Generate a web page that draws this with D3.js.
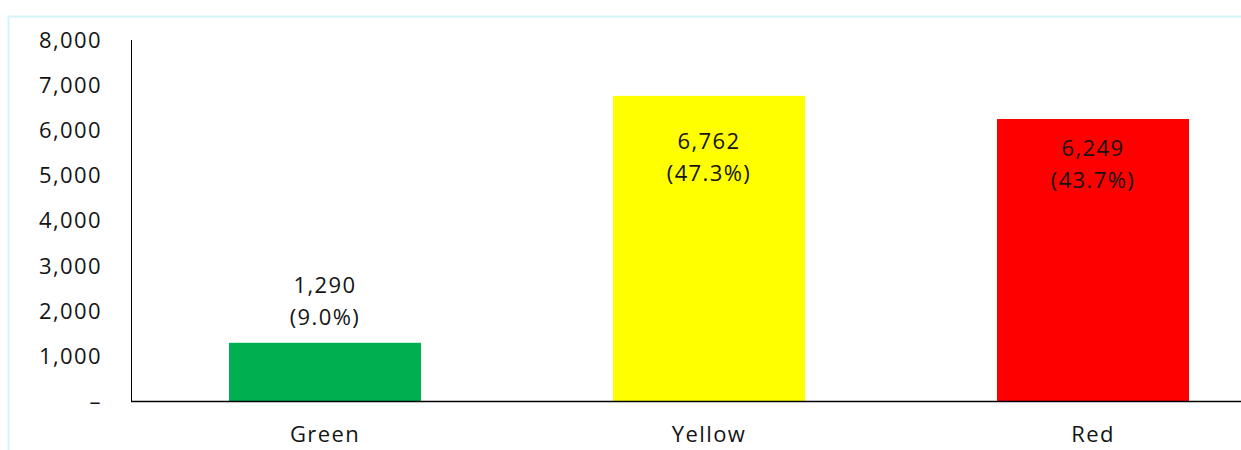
<!DOCTYPE html>
<html>
<head>
<meta charset="utf-8">
<script src="https://cdn.jsdelivr.net/npm/d3@7"></script>
<style>
  html, body { margin: 0; padding: 0; background: #fff; }
  svg { display: block; }
  text { font-family: "Open Sans", "Noto Sans", sans-serif; fill: #141414; letter-spacing: 1.4px; }
</style>
</head>
<body>
<svg id="chart" width="1241" height="450"></svg>
<script>
// Status counts by category
const categories = ["Green", "Yellow", "Red"];
const counts = [1290, 6762, 6249];
const shares = [9.0, 47.3, 43.7];
const barColors = ["#00b050", "#ffff00", "#ff0000"];
const yTicks = [0, 1000, 2000, 3000, 4000, 5000, 6000, 7000, 8000];

const svg = d3.select("#chart");

// Light frame around the chart area
svg.append("rect")
  .attr("x", 8.5).attr("y", 16.5)
  .attr("width", 1300).attr("height", 500)
  .attr("fill", "none")
  .attr("stroke", "#d4f3fa")
  .attr("stroke-width", 2);

const left = 131, baseY = 401, topY = 40;
const x = d3.scaleBand()
  .domain(categories)
  .range([left + 2, left + 2 + 3 * 384])
  .paddingInner(0.5)
  .paddingOuter(0.25);

const y = d3.scaleLinear().domain([0, 8000]).range([baseY, topY]);
const fs = 22;

// Y axis: labels only plus the vertical rule
const fmt = d3.format(",");
svg.append("g")
  .selectAll("text")
  .data(yTicks)
  .join("text")
  .attr("x", 102)
  .attr("y", d => y(d))
  .attr("dy", "0.36em")
  .attr("text-anchor", "end")
  .attr("font-size", fs)
  .text(d => d === 0 ? "–" : fmt(d));

svg.append("line")
  .attr("x1", left + 0.5).attr("x2", left + 0.5)
  .attr("y1", y(8000)).attr("y2", baseY + 1)
  .attr("stroke", "#000").attr("stroke-width", 1);

// Bars
svg.append("g")
  .selectAll("rect")
  .data(categories)
  .join("rect")
  .attr("x", d => x(d))
  .attr("width", x.bandwidth())
  .attr("y", (d, i) => y(counts[i]))
  .attr("height", (d, i) => baseY - y(counts[i]))
  .attr("fill", (d, i) => barColors[i]);

// Baseline
svg.append("line")
  .attr("x1", left).attr("x2", 1241)
  .attr("y1", baseY + 0.5).attr("y2", baseY + 0.5)
  .attr("stroke", "#000").attr("stroke-width", 1.5);

// Category labels
svg.append("g")
  .selectAll("text")
  .data(categories)
  .join("text")
  .attr("x", d => x(d) + x.bandwidth() / 2)
  .attr("y", 434)
  .attr("dy", "0.36em")
  .attr("text-anchor", "middle")
  .attr("font-size", fs)
  .text(d => d);

// Value labels: first line offset from the bar top (negative = above)
const labelOffset = [-58, 45, 29];
const valueLabels = svg.append("g")
  .selectAll("text")
  .data(categories)
  .join("text")
  .attr("text-anchor", "middle")
  .attr("font-size", fs);

valueLabels.append("tspan")
  .attr("x", d => x(d) + x.bandwidth() / 2)
  .attr("y", (d, i) => y(counts[i]) + labelOffset[i])
  .attr("dy", "0.36em")
  .text((d, i) => fmt(counts[i]));

valueLabels.append("tspan")
  .attr("x", d => x(d) + x.bandwidth() / 2)
  .attr("y", (d, i) => y(counts[i]) + labelOffset[i] + 32)
  .attr("dy", "0.36em")
  .text((d, i) => "(" + shares[i].toFixed(1) + "%)");
</script>
</body>
</html>
